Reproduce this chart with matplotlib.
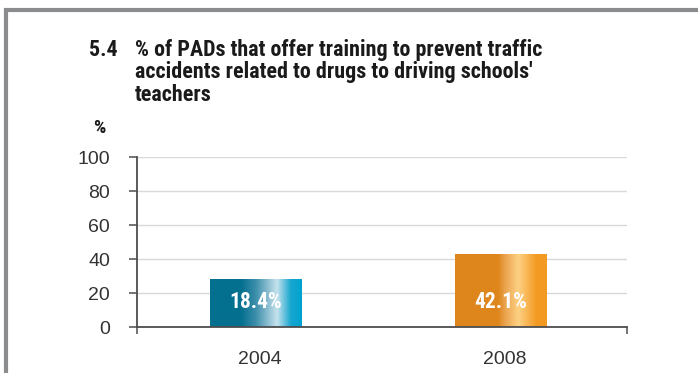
"""Recreate chart 5.4 — % of PADs offering training to driving-school teachers."""

import matplotlib
matplotlib.use("Agg")
import matplotlib.pyplot as plt
from matplotlib.colors import LinearSegmentedColormap
from matplotlib.patches import Rectangle
import numpy as np

# ── Data ──
years = ["2004", "2008"]
bar_heights = [27.8, 42.5]        # heights as drawn in the picture
bar_labels = ["18.4%", "42.1%"]   # printed values
y_ticks = [0, 20, 40, 60, 80, 100]

title_num = "5.4"
title_text = ("% of PADs that offer training to prevent traffic\n"
              "accidents related to drugs to driving schools'\n"
              "teachers")

# ── Style ──
FONT = ["Liberation Sans", "DejaVu Sans"]
FONT_NARROW = ["Roboto Condensed", "DejaVu Sans"]
plt.rcParams["font.family"] = FONT

teal = LinearSegmentedColormap.from_list("teal", [
    (0.00, "#04708f"), (0.34, "#04708f"), (0.50, "#3d8fab"),
    (0.73, "#c6e3ee"), (0.88, "#18a6cf"), (1.00, "#00a3d0")])
orange = LinearSegmentedColormap.from_list("orange", [
    (0.00, "#de861c"), (0.47, "#de861c"), (0.55, "#eba550"),
    (0.69, "#fdd183"), (0.89, "#f39a22"), (1.00, "#f39a22")])
cmaps = [teal, orange]

fig = plt.figure(figsize=(6.98, 3.73), dpi=100)

# gray frame (top and left)
fig.patches.append(Rectangle((6 / 698, -0.1), 1.2, (373 - 10) / 373 + 0.1,
                             transform=fig.transFigure, fill=False,
                             edgecolor="#8a8c8e", lw=3))

ax = fig.add_axes([137 / 698, 45.7 / 373, 490 / 698, 170 / 373])

x = np.arange(len(years))
width = 0.374
bars = ax.bar(x - 0.017, bar_heights, width, color="none", zorder=2)

grad = np.linspace(0, 1, 256).reshape(1, -1)
for bar, cmap, lab in zip(bars, cmaps, bar_labels):
    x0, w, h = bar.get_x(), bar.get_width(), bar.get_height()
    ax.imshow(grad, cmap=cmap, aspect="auto", extent=(x0, x0 + w, 0, h),
              zorder=2, interpolation="bilinear")
    ax.text(x0 + w / 2, 14.9, lab, ha="center", va="center", color="white",
            fontsize=15.5, fontweight="bold", family=FONT_NARROW, zorder=3)

ax.set_xlim(-0.5, 1.5)
ax.set_ylim(0, 100)
ax.set_yticks(y_ticks)
ax.set_yticklabels([str(v) for v in y_ticks])
ax.set_xticks(x)
ax.set_xticklabels(years)
ax.set_xticks([-0.5, 1.5], minor=True)

ax.grid(axis="y", color="#d9d9d9", lw=1, zorder=0)
ax.set_axisbelow(True)

for s in ["top", "right"]:
    ax.spines[s].set_visible(False)
for s in ["left", "bottom"]:
    ax.spines[s].set_color("#4d4d4d")
    ax.spines[s].set_linewidth(1.3)
    ax.spines[s].set_zorder(4)

ax.tick_params(axis="y", length=6, width=1.1, color="#4d4d4d",
               labelsize=14, labelcolor="#333333", pad=13.5)
ax.tick_params(axis="x", which="major", length=0, labelsize=14,
               labelcolor="#333333", pad=17)
ax.tick_params(axis="x", which="minor", length=5, width=1.1, color="#4d4d4d")

# Title
fig.text(89 / 698, 1 - 39 / 373, title_num, ha="left", va="top",
         fontsize=15.8, fontweight="bold", family=FONT_NARROW, color="#1a1a1a")
fig.text(135 / 698, 1 - 39 / 373, title_text, ha="left", va="top",
         fontsize=15.8, fontweight="bold", family=FONT_NARROW, color="#1a1a1a",
         linespacing=1.02)
fig.text(93 / 698, 1 - 119 / 373, "%", ha="left", va="top",
         fontsize=14, fontweight="bold", family=FONT_NARROW, color="#1a1a1a")

fig.savefig("out.png", dpi=100)
plt.close(fig)
